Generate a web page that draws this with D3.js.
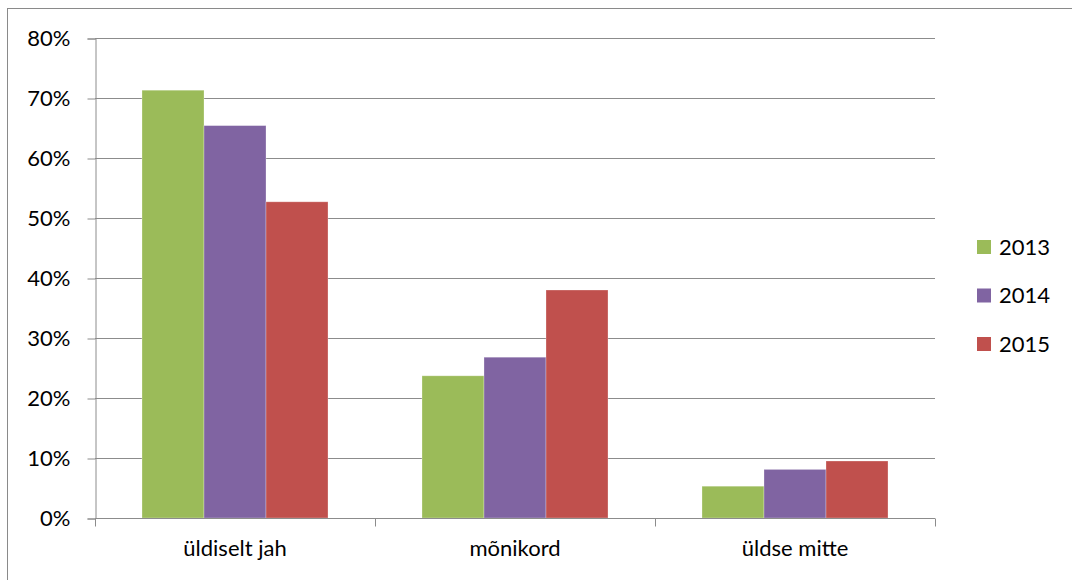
<!DOCTYPE html>
<html><head><meta charset="utf-8">
<script src="https://cdn.jsdelivr.net/npm/d3@7"></script>
<style>body{margin:0;background:#fff}svg{display:block}text{font-family:Lato,"Open Sans",sans-serif;fill:#000}</style>
</head><body>
<svg id="c" width="1072" height="580"></svg>
<script>
const categories = ["üldiselt jah", "mõnikord", "üldse mitte"];
const seriesNames = ["2013", "2014", "2015"];
const values2013 = [71.3, 23.7, 5.3];
const values2014 = [65.4, 26.8, 8.1];
const values2015 = [52.7, 38.0, 9.5];
const colors = ["#9BBB59", "#8064A2", "#C0504D"];
const yTicks = [0, 10, 20, 30, 40, 50, 60, 70, 80];

const series = [values2013, values2014, values2015];
const svg = d3.select("#c");
const L = 95, R = 935, T = 38, B = 518;
const FS = "22px";

svg.append("rect").attr("x", 7.5).attr("y", 8.5).attr("width", 1100).attr("height", 600)
  .attr("fill", "none").attr("stroke", "#8a8a8a").attr("stroke-width", 1);

const x = d3.scaleBand().domain(categories).range([L, R]).paddingInner(0).paddingOuter(0);
const xs = d3.scaleBand().domain(seriesNames).range([0, x.bandwidth()]).paddingInner(0).paddingOuter(0.758);
const y = d3.scaleLinear().domain([0, 80]).range([B, T]);

// gridlines
svg.append("g").selectAll("line").data(yTicks.filter(d => d > 0)).join("line")
  .attr("x1", L).attr("x2", R).attr("y1", d => Math.round(y(d)) + 0.5).attr("y2", d => Math.round(y(d)) + 0.5)
  .attr("stroke", "#8c8c8c").attr("stroke-width", 1);

// y axis
const yAxis = svg.append("g").attr("transform", `translate(${L + 0.5},0.5)`)
  .call(d3.axisLeft(y).tickValues(yTicks).tickSize(8).tickPadding(17).tickFormat(d => d + "%"));
yAxis.select(".domain").attr("stroke", "#8c8c8c");
yAxis.selectAll(".tick line").attr("stroke", "#8c8c8c");
yAxis.selectAll("text").style("font-size", FS).attr("fill", "#000");

// bars
const groups = svg.append("g").selectAll("g").data(categories).join("g")
  .attr("transform", d => `translate(${x(d)},0)`);
groups.selectAll("rect").data((c, i) => seriesNames.map((s, j) => ({ s, v: series[j][i], j }))).join("rect")
  .attr("x", d => xs(d.s)).attr("width", xs.bandwidth())
  .attr("y", d => y(d.v)).attr("height", d => y(0) - y(d.v))
  .attr("fill", d => colors[d.j]).attr("stroke", "rgba(255,255,255,0.35)").attr("stroke-width", 0.8);

// x axis
const xAxis = svg.append("g").attr("transform", `translate(0,${B + 0.5})`)
  .call(d3.axisBottom(x).tickSize(0).tickPadding(22));
xAxis.select(".domain").attr("stroke", "#8c8c8c").attr("d", `M${L},0H${R}`);
xAxis.selectAll("text").style("font-size", FS).attr("fill", "#000");
const bounds = [...categories.map(c => x(c)), R];
xAxis.append("g").selectAll("line").data(bounds).join("line")
  .attr("x1", d => d + 0.5).attr("x2", d => d + 0.5).attr("y1", 0).attr("y2", 8).attr("stroke", "#8c8c8c");

// legend
const leg = svg.append("g").selectAll("g").data(seriesNames).join("g")
  .attr("transform", (d, i) => `translate(977,${247 + i * 48.5})`);
leg.append("rect").attr("x", 0).attr("y", -7).attr("width", 14).attr("height", 14).attr("fill", (d, i) => colors[i]);
leg.append("text").attr("x", 22).attr("y", 0).attr("dy", "0.36em").style("font-size", FS).text(d => d);
</script>
</body></html>
